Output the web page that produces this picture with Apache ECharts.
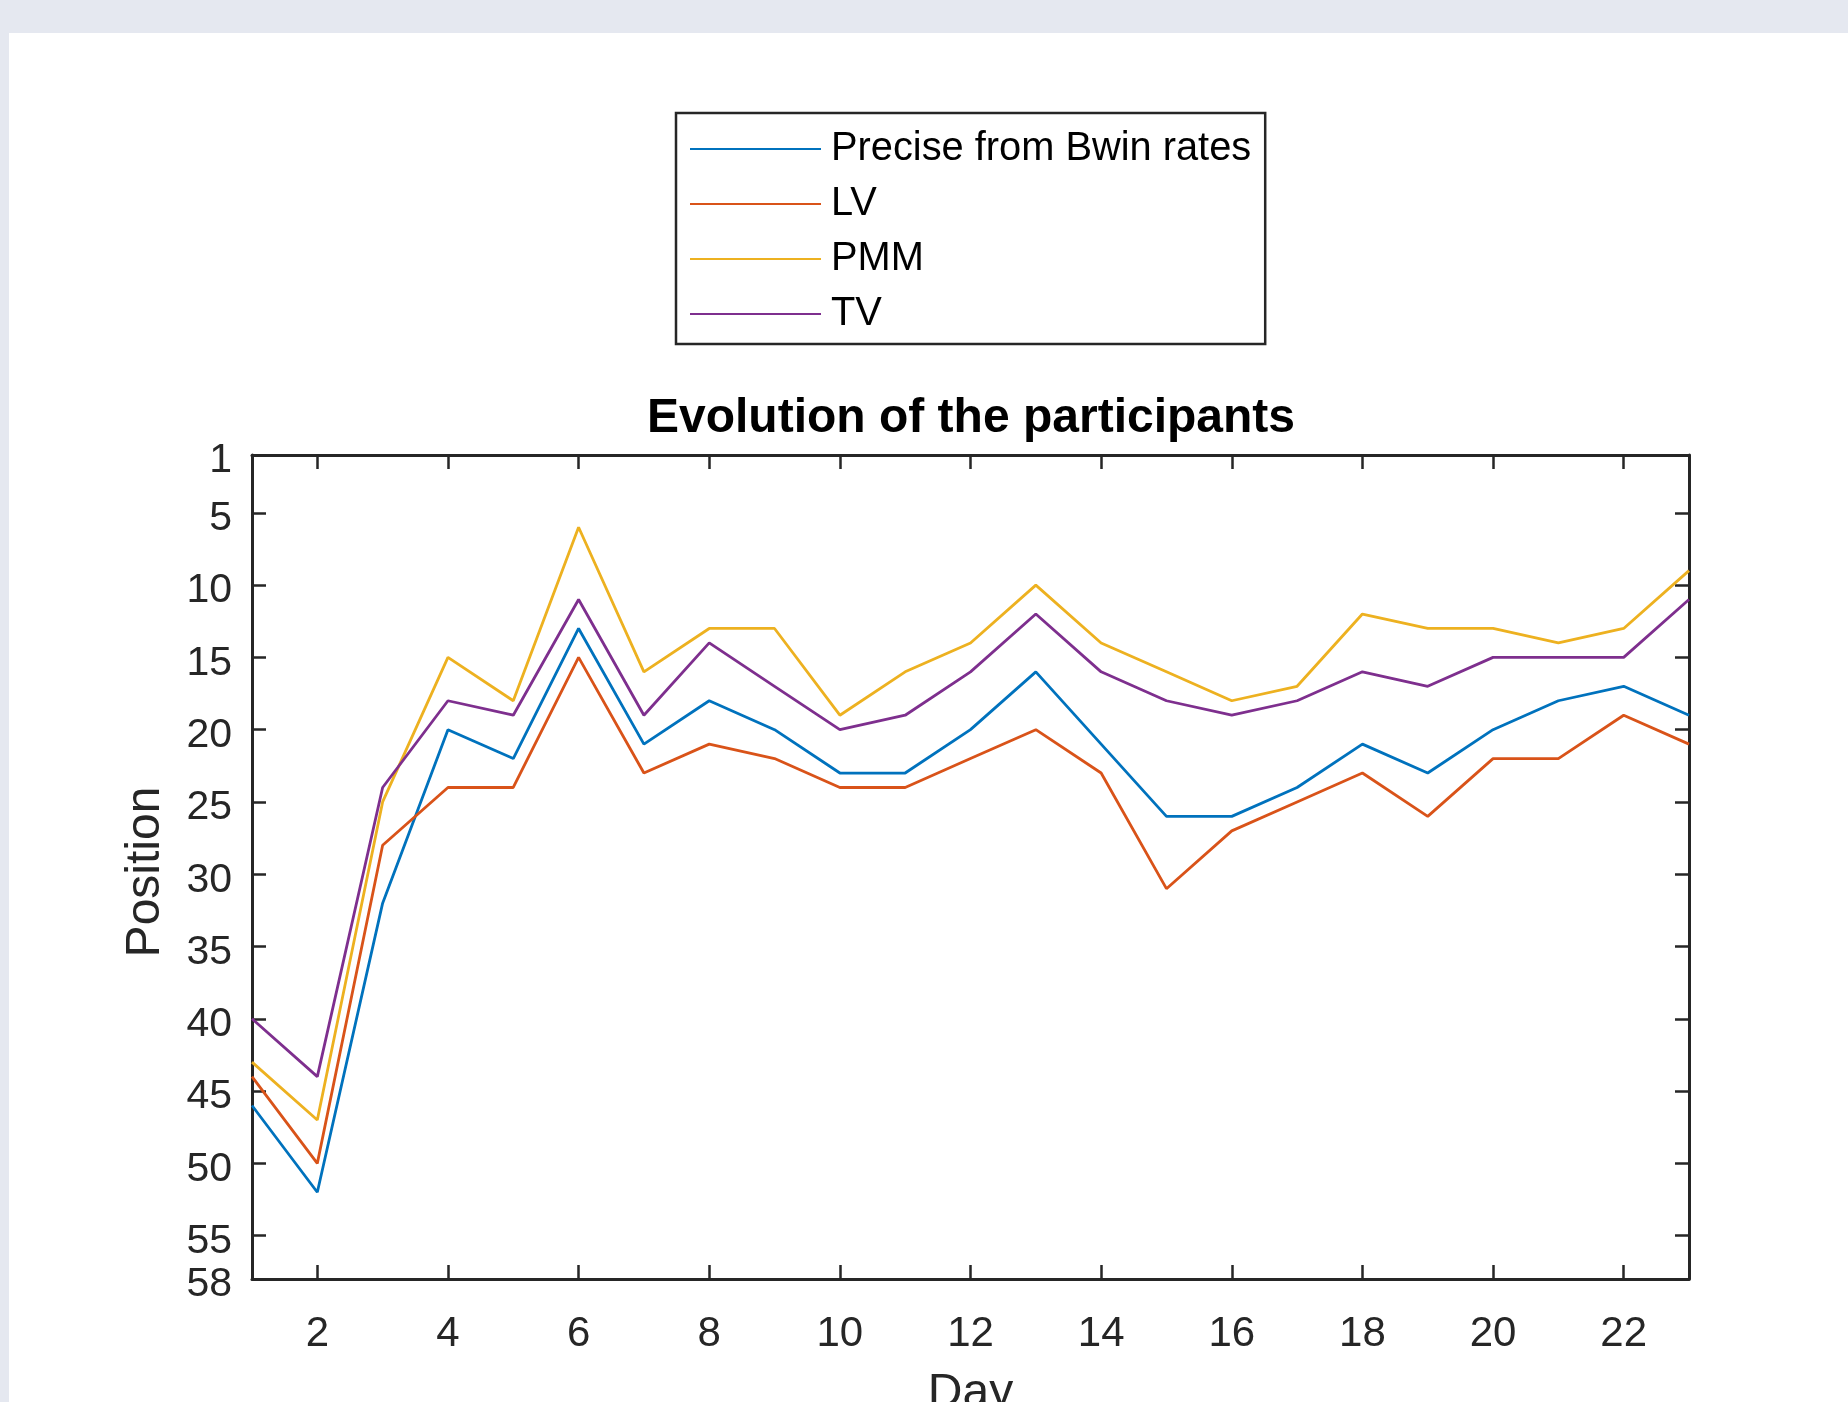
<!DOCTYPE html>
<html>
<head>
<meta charset="utf-8">
<script src="https://cdn.jsdelivr.net/npm/echarts@6/dist/echarts.min.js"></script>
<style>
  html, body { margin: 0; padding: 0; background: #e5e8f0; width: 1848px; height: 1402px; overflow: hidden; }
  #chart { position: absolute; left: 9px; top: 33px; width: 1839px; height: 1369px; background: #ffffff; }
</style>
</head>
<body>
<div id="chart"></div>
<script>
// ---- data ----
const days = [1,2,3,4,5,6,7,8,9,10,11,12,13,14,15,16,17,18,19,20,21,22,23];
const seriesNames = ['Precise from Bwin rates', 'LV', 'PMM', 'TV'];
const precise = [46,52,32,20,22,13,21,18,20,23,23,20,16,21,26,26,24,21,23,20,18,17,19];
const lv      = [44,50,28,24,24,15,23,21,22,24,24,22,20,23,31,27,25,23,26,22,22,19,21];
const pmm     = [43,47,25,15,18, 6,16,13,13,19,16,14,10,14,16,18,17,12,13,13,14,13, 9];
const tv      = [40,44,24,18,19,11,19,14,17,20,19,16,12,16,18,19,18,16,17,15,15,15,11];
const xTicks = [2,4,6,8,10,12,14,16,18,20,22];
const yTicks = [1,5,10,15,20,25,30,35,40,45,50,55,58];
const titleText = 'Evolution of the participants';
const xName = 'Day';
const yName = 'Position';

const colors = ['#0072BD', '#D95319', '#EDB120', '#7E2F8E'];
const allValues = [precise, lv, pmm, tv];
const FONT = 'Liberation Sans, Arial, Helvetica, sans-serif';
const AX = '#262626';

function pairs(vals) { return days.map((d, i) => [d, vals[i]]); }

const chart = echarts.init(document.getElementById('chart'), null, { renderer: 'canvas' });

const axisLineStyle = { color: AX, width: 3 };
const tickStyle = { color: AX, width: 2.5 };

const option = {
  animation: false,
  backgroundColor: '#ffffff',
  textStyle: { fontFamily: FONT },
  title: {
    text: titleText,
    left: 962,
    top: 362,
    padding: 0,
    textAlign: 'center',
    textStyle: { fontFamily: FONT, fontSize: 48, fontWeight: 'bold', color: '#000000', lineHeight: 48 }
  },
  legend: {
    orient: 'vertical',
    left: 667,
    top: 80,
    padding: [16, 14, 10, 14],
    icon: 'rect',
    itemWidth: 131,
    itemHeight: 2,
    itemGap: 15,
    borderColor: '#262626',
    borderWidth: 2.5,
    backgroundColor: '#ffffff',
    data: seriesNames,
    textStyle: { fontFamily: FONT, fontSize: 39.8, color: '#000000', lineHeight: 40, padding: [0, 0, 0, 5] }
  },
  grid: { left: 243, top: 422, right: 159, bottom: 123, containLabel: false, outerBoundsMode: 'none' },
  xAxis: [
    {
      type: 'value', position: 'bottom', min: 1, max: 23,
      name: xName, nameLocation: 'middle', nameGap: 91,
      nameTextStyle: { fontFamily: FONT, fontSize: 48, color: AX, lineHeight: 48 },
      axisLine: { show: true, onZero: false, lineStyle: axisLineStyle },
      axisTick: { show: true, inside: true, length: 14, lineStyle: tickStyle, customValues: xTicks },
      axisLabel: { show: true, margin: 34, fontFamily: FONT, fontSize: 42, color: AX, customValues: xTicks },
      splitLine: { show: false }
    },
    {
      type: 'value', position: 'top', min: 1, max: 23,
      axisLine: { show: true, onZero: false, lineStyle: axisLineStyle },
      axisTick: { show: true, inside: true, length: 14, lineStyle: tickStyle, customValues: xTicks },
      axisLabel: { show: false },
      splitLine: { show: false }
    }
  ],
  yAxis: [
    {
      type: 'value', position: 'left', inverse: true, min: 1, max: 58,
      name: yName, nameLocation: 'middle', nameGap: 82, nameRotate: 90,
      nameTextStyle: { fontFamily: FONT, fontSize: 48, color: AX, lineHeight: 48, padding: [0, 10, 0, 0] },
      axisLine: { show: true, onZero: false, lineStyle: axisLineStyle },
      axisTick: { show: true, inside: true, length: 14, lineStyle: tickStyle, customValues: yTicks },
      axisLabel: { show: true, margin: 20, fontFamily: FONT, fontSize: 41, color: AX, customValues: yTicks, verticalAlign: 'top', lineHeight: 12 },
      splitLine: { show: false }
    },
    {
      type: 'value', position: 'right', inverse: true, min: 1, max: 58,
      axisLine: { show: true, onZero: false, lineStyle: axisLineStyle },
      axisTick: { show: true, inside: true, length: 14, lineStyle: tickStyle, customValues: yTicks },
      axisLabel: { show: false },
      splitLine: { show: false }
    }
  ],
  series: seriesNames.map((name, i) => ({
    name: name,
    type: 'line',
    xAxisIndex: 0,
    yAxisIndex: 0,
    data: pairs(allValues[i]),
    symbol: 'none',
    showSymbol: false,
    color: colors[i],
    lineStyle: { color: colors[i], width: 2.8 },
    emphasis: { disabled: true }
  }))
};

chart.setOption(option);
</script>
</body>
</html>
